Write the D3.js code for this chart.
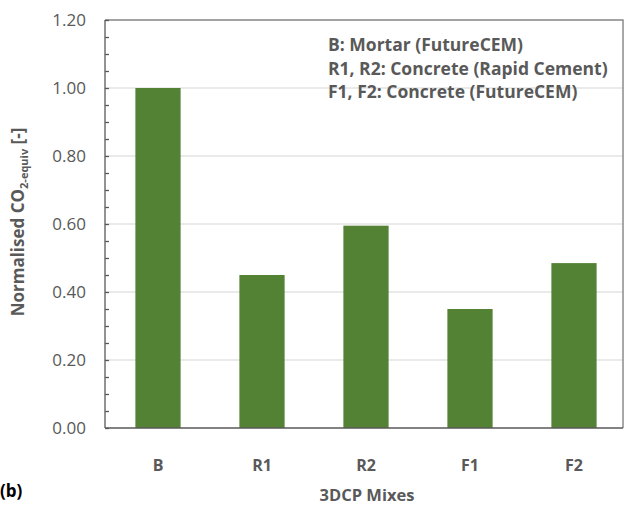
<!DOCTYPE html>
<html>
<head>
<meta charset="utf-8">
<script src="https://cdn.jsdelivr.net/npm/d3@7"></script>
<style>
	body{ margin:0; background:#fff; }
	svg{ display:block; font-family:"Open Sans", sans-serif; }
</style>
</head>
<body>
<svg id="svg" width="625" height="510"></svg>
<script>

	var mixes = ["B", "R1", "R2", "F1", "F2"];
	var co2 = [1.00, 0.45, 0.595, 0.35, 0.485];
	var yTicks = [0, 0.2, 0.4, 0.6, 0.8, 1.0, 1.2];
	var legendLines = [
		"B: Mortar (FutureCEM)",
		"R1, R2: Concrete (Rapid Cement)",
		"F1, F2: Concrete (FutureCEM)"
	];

	var svg = d3.select("#svg");
	var pLeft = 105, pRight = 623, pTop = 20, pBottom = 428;
	var grey = "#595959";

	var x = d3.scaleBand().domain(mixes).range([pLeft + 1, pRight + 3]).paddingInner(0.565).paddingOuter(0.2825);
	var y = d3.scaleLinear().domain([0, 1.2]).range([pBottom, pTop]);

	//gridlines
	svg.append("g").selectAll("line").data(yTicks.slice(1)).enter().append("line")
		.attr("x1", pLeft).attr("x2", pRight)
		.attr("y1", function(d){ return y(d); })
		.attr("y2", function(d){ return y(d); })
		.style("stroke", "#e3e3e3").style("stroke-width", 1.5);

	//bars
	svg.append("g").selectAll("rect").data(co2).enter().append("rect")
		.attr("x", function(d, i){ return x(mixes[i]); })
		.attr("y", function(d){ return y(d); })
		.attr("width", x.bandwidth())
		.attr("height", function(d){ return pBottom - y(d); })
		.style("fill", "#548235");

	//frame top / right
	svg.append("path")
		.attr("d", "M" + pLeft + "," + pTop + "H" + pRight + "V" + pBottom)
		.style("fill", "none").style("stroke", "#8c8c8c").style("stroke-width", 1.5);

	//y axis with inner minor ticks
	var yAxis = d3.axisRight(y).tickValues(d3.range(0, 1.2001, 0.05)).tickSize(4).tickFormat("");
	var gy = svg.append("g").attr("transform", "translate(" + pLeft + ",0)").call(yAxis);
	gy.selectAll("path, line").style("stroke", grey).style("stroke-width", 1.3);
	gy.select(".domain").attr("d", "M0," + pTop + "V" + pBottom);

	svg.append("g").selectAll("text").data(yTicks).enter().append("text")
		.attr("x", 86).attr("y", function(d){ return y(d); })
		.attr("dy", "0.35em").attr("text-anchor", "end")
		.style("font-size", "17px").style("fill", grey)
		.text(function(d){ return d3.format(".2f")(d); });

	//x axis
	var xAxis = d3.axisBottom(x).tickSize(0).tickPadding(32);
	var gx = svg.append("g").attr("transform", "translate(0," + pBottom + ")").call(xAxis);
	gx.select(".domain").attr("d", "M" + pLeft + ",0H" + pRight).style("stroke", grey).style("stroke-width", 1.3);
	gx.selectAll("text").style("font-size", "16px").style("font-weight", "bold").style("fill", grey)
		.style("font-family", "'Open Sans', sans-serif");

	svg.append("text").attr("x", 367).attr("y", 501).attr("text-anchor", "middle")
		.style("font-size", "16.5px").style("font-weight", "bold").style("fill", grey)
		.text("3DCP Mixes");

	svg.append("text").attr("x", 0).attr("y", 497)
		.style("font-size", "17px").style("font-weight", "bold").style("fill", "#000")
		.text("(b)");

	//y title
	var yt = svg.append("text").attr("transform", "translate(24,222) rotate(-90)")
		.attr("text-anchor", "middle")
		.style("font-size", "17px").style("font-weight", "bold").style("fill", grey);
	yt.append("tspan").text("Normalised CO");
	yt.append("tspan").attr("dy", 4).style("font-size", "11px").text("2-equiv");
	yt.append("tspan").attr("dy", -4).text(" [-]");

	//legend note
	svg.append("g").selectAll("text").data(legendLines).enter().append("text")
		.attr("x", 328).attr("y", function(d, i){ return 51 + i * 23.5; })
		.style("font-size", "17.5px").style("font-weight", "bold").style("fill", grey)
		.text(function(d){ return d; });

</script>
</body>
</html>
